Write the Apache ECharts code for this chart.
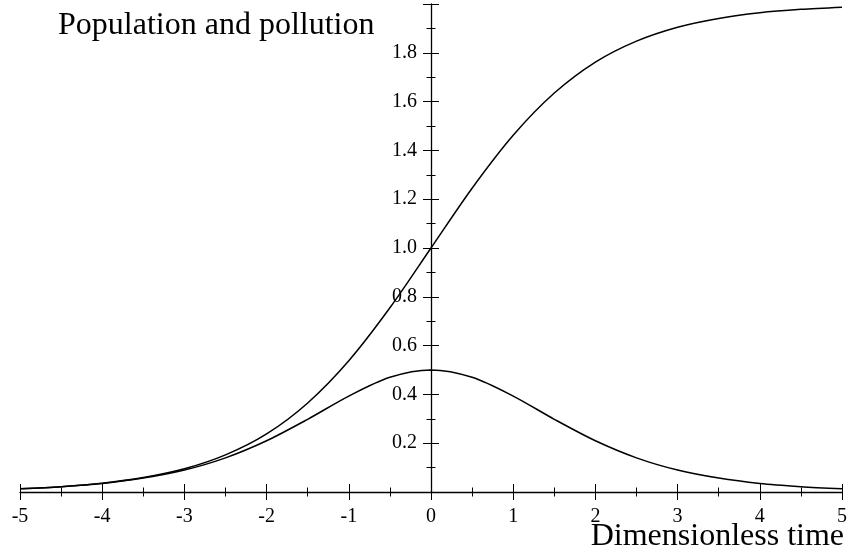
<!DOCTYPE html>
<html lang="en">
<head>
<meta charset="UTF-8">
<title>Population and pollution</title>
<script src="https://cdn.jsdelivr.net/npm/echarts@6/dist/echarts.min.js"></script>
<style>
	html, body { margin: 0; padding: 0; background: #fff; }
	#main { width: 849px; height: 552px; }
</style>
</head>
<body>
	<div id="main"></div>
	<script type="text/javascript">
		// time values (x) and the two curves
		var times = [-5, -4.5, -4, -3.5, -3, -2.5, -2, -1.5, -1, -0.5, 0,
			0.5, 1, 1.5, 2, 2.5, 3, 3.5, 4, 4.5, 5];
		var population = [0.013, 0.022, 0.036, 0.059, 0.095, 0.152, 0.238, 0.365, 0.538, 0.755, 1.0,
			1.245, 1.462, 1.635, 1.762, 1.848, 1.905, 1.941, 1.964, 1.978, 1.987];
		var pollution = [0.013, 0.022, 0.035, 0.057, 0.090, 0.140, 0.210, 0.298, 0.393, 0.470, 0.5,
			0.470, 0.393, 0.298, 0.210, 0.140, 0.090, 0.057, 0.035, 0.022, 0.013];
		var xTicks = [-5, -4, -3, -2, -1, 0, 1, 2, 3, 4, 5];
		var yTicks = [0.2, 0.4, 0.6, 0.8, 1.0, 1.2, 1.4, 1.6, 1.8];

		var font = '"Liberation Serif", "Times New Roman", serif';

		function pairs(ys) {
			var out = [];
			for (var i = 0; i < times.length; i++) {
				out.push([times[i], ys[i]]);
			}
			return out;
		}

		var myChart = echarts.init(document.getElementById('main'));

		var gridLeft = 20, gridRight = 7;
		var plotW = 849 - gridLeft - gridRight;
		// the y axis sits at x = 0, in the middle of the -5..5 range
		var yOffset = -plotW * (0 - (-5)) / 10;

		var lineStyle = { color: '#000', width: 1.3 };

		// x axis: two copies so the ticks cross the line
		function xAxisCfg(inside) {
			return {
				type: 'value',
				position: 'bottom',
				min: -5,
				max: 5,
				interval: 1,
				axisLine: { show: !inside, onZero: false, lineStyle: lineStyle },
				axisTick: { show: true, inside: inside, length: 8, lineStyle: { color: '#000', width: 1 } },
				minorTick: { show: true, splitNumber: 2, length: 4.5, lineStyle: { color: '#000', width: 1 } },
				splitLine: { show: false },
				axisLabel: {
					show: !inside,
					margin: 15,
					color: '#000',
					fontFamily: font,
					fontSize: 20,
					formatter: function (v) {
						return xTicks.indexOf(v) >= 0 ? String(v) : '';
					}
				}
			};
		}

		function yAxisCfg(inside) {
			return {
				type: 'value',
				position: 'left',
				offset: yOffset,
				min: 0,
				max: 2,
				interval: 0.2,
				axisLine: { show: !inside, onZero: false, lineStyle: lineStyle },
				axisTick: { show: true, inside: inside, length: 8, lineStyle: { color: '#000', width: 1 } },
				minorTick: { show: true, splitNumber: 2, length: 4.5, lineStyle: { color: '#000', width: 1 } },
				splitLine: { show: false },
				axisLabel: {
					show: !inside,
					margin: 14,
					color: '#000',
					fontFamily: font,
					fontSize: 20,
					formatter: function (v) {
						var r = Math.round(v * 10) / 10;
						return yTicks.indexOf(r) >= 0 ? r.toFixed(1) : '';
					}
				}
			};
		}

		var option = {
			animation: false,
			backgroundColor: '#fff',
			title: [{
				text: 'Population and pollution',
				left: 58,
				top: 10,
				padding: 0,
				textStyle: { color: '#000', fontFamily: font, fontSize: 32, fontWeight: 'normal' }
			}, {
				text: 'Dimensionless time',
				right: 5,
				top: 521,
				padding: 0,
				textStyle: { color: '#000', fontFamily: font, fontSize: 32, fontWeight: 'normal' }
			}],
			grid: {
				left: gridLeft,
				right: gridRight,
				top: 4,
				bottom: 60,
				containLabel: false,
				outerBoundsMode: 'none'
			},
			xAxis: [xAxisCfg(false), xAxisCfg(true)],
			yAxis: [yAxisCfg(false), yAxisCfg(true)],
			series: [{
				name: 'Population',
				type: 'line',
				data: pairs(population),
				smooth: 0.3,
				showSymbol: false,
				lineStyle: { color: '#000', width: 1.5 }
			}, {
				name: 'Pollution',
				type: 'line',
				data: pairs(pollution),
				smooth: 0.3,
				showSymbol: false,
				lineStyle: { color: '#000', width: 1.5 }
			}]
		};

		myChart.setOption(option);
	</script>
</body>
</html>
